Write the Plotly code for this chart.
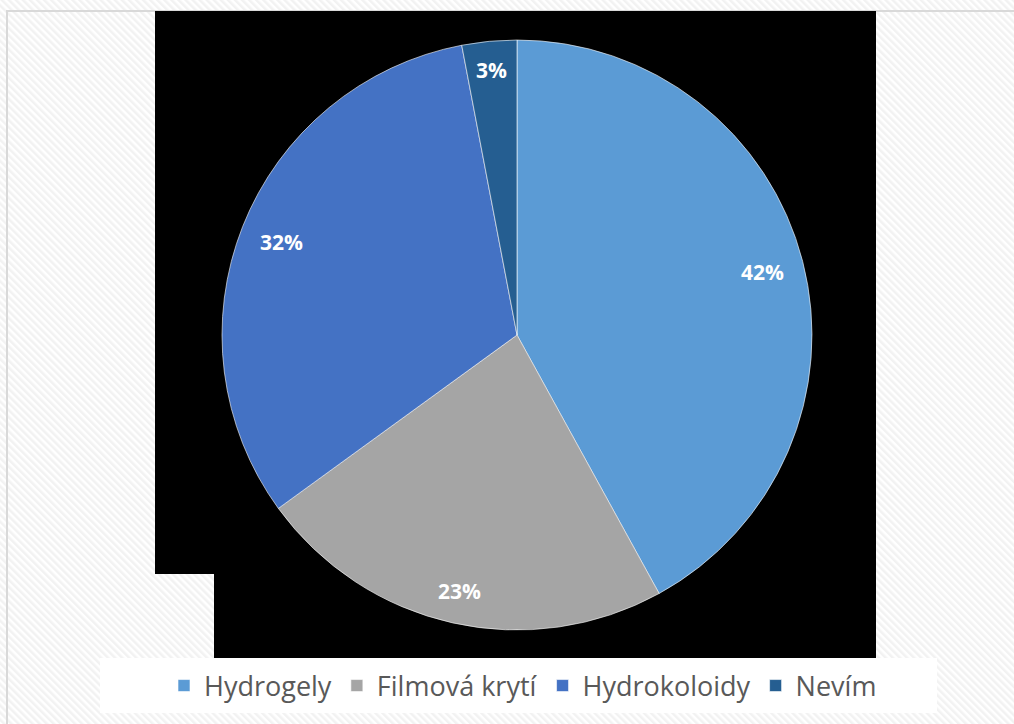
import base64
import math
import plotly.graph_objects as go

categories = ["Hydrogely", "Filmová krytí", "Hydrokoloidy", "Nevím"]
values = [42, 23, 32, 3]
colors = ["#5B9BD5", "#A5A5A5", "#4472C4", "#255E91"]

W, H = 1014, 724

def px(x):
    return x / W

def py(y):
    return 1 - y / H

# pie geometry (pixels)
CX, CY, R = 517, 335, 295

svg = (
    '<svg xmlns="http://www.w3.org/2000/svg" width="1014" height="724">'
    '<defs><pattern id="p" width="5" height="5" patternUnits="userSpaceOnUse" patternTransform="rotate(-45)">'
    '<rect width="5" height="5" fill="#ffffff"/><rect width="2.5" height="5" fill="#f2f2f2"/>'
    '</pattern></defs><rect width="1014" height="724" fill="url(#p)"/></svg>'
)
src = "data:image/svg+xml;base64," + base64.b64encode(svg.encode()).decode()

fig = go.Figure()
fig.add_trace(go.Pie(
    labels=categories,
    values=values,
    sort=False,
    direction="clockwise",
    rotation=0,
    marker=dict(colors=colors, line=dict(color="#ffffff", width=0.6)),
    textinfo="none",
    domain=dict(x=[px(CX - R), px(CX + R)], y=[py(CY + R), py(CY - R)]),
    hoverinfo="label+percent",
))

# data labels placed inside near the rim (best-fit style), computed from the values
total = sum(values)
annotations = []
cum = 0
for v in values:
    mid = (cum + v / 2) / total * 2 * math.pi
    cum += v
    txt = f"{round(v / total * 100)}%"
    half_w = 7 * len(txt) - 1
    half_h = 8
    d = 0.932 * R - half_w * abs(math.sin(mid)) - half_h * abs(math.cos(mid))
    lx = CX + d * math.sin(mid)
    ly = CY - d * math.cos(mid)
    annotations.append(dict(
        text=f"<b>{txt}</b>", x=px(lx), y=py(ly), xref="paper", yref="paper",
        xanchor="center", yanchor="middle", showarrow=False,
        font=dict(family="Open Sans", size=21, color="#ffffff"),
    ))

shapes = [
    # outer border
    dict(type="rect", xref="paper", yref="paper", x0=px(7), x1=px(1030), y0=py(740), y1=py(11),
         line=dict(color="#d9d9d9", width=2), fillcolor="rgba(0,0,0,0)", layer="below"),
    # black plot areas
    dict(type="rect", xref="paper", yref="paper", x0=px(155), x1=px(876), y0=py(574), y1=py(11),
         line=dict(width=0), fillcolor="#000000", layer="below"),
    dict(type="rect", xref="paper", yref="paper", x0=px(214), x1=px(876), y0=py(658), y1=py(574),
         line=dict(width=0), fillcolor="#000000", layer="below"),
    # legend white box
    dict(type="rect", xref="paper", yref="paper", x0=px(100), x1=px(937), y0=py(713), y1=py(658),
         line=dict(width=0), fillcolor="#ffffff", layer="below"),
]

fig.update_layout(
    width=W, height=H,
    margin=dict(l=0, r=0, t=0, b=0),
    paper_bgcolor="#ffffff",
    plot_bgcolor="rgba(0,0,0,0)",
    shapes=shapes,
    annotations=annotations,
    images=[dict(source=src, xref="paper", yref="paper", x=0, y=1, sizex=1, sizey=1,
                 xanchor="left", yanchor="top", sizing="stretch", layer="below")],
    legend=dict(orientation="h", x=px(523), xanchor="center", y=py(686), yanchor="middle",
                bgcolor="rgba(0,0,0,0)", font=dict(family="Open Sans", size=27, color="#595959"),
                itemwidth=30, traceorder="normal"),
    showlegend=True,
)

fig.write_html("out.html", config={"displayModeBar": False})
